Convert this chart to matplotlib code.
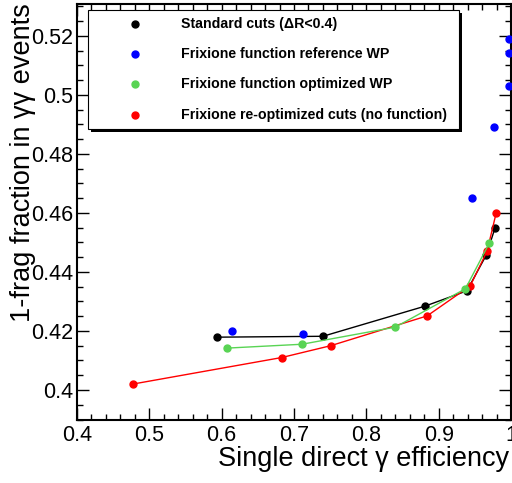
import matplotlib
matplotlib.use("Agg")
import matplotlib.pyplot as plt
from matplotlib.patches import Rectangle
from matplotlib.ticker import MultipleLocator, FixedLocator

# ---- data ----
std_x = [0.594, 0.740, 0.881, 0.939, 0.966, 0.978]
std_y = [0.4179, 0.4182, 0.4284, 0.4336, 0.4458, 0.4550]

ref_x = [0.614, 0.713, 0.9455, 0.976, 0.9975, 0.9975, 0.9975]
ref_y = [0.4200, 0.4191, 0.4652, 0.4892, 0.5030, 0.5141, 0.5191]

opt_x = [0.608, 0.711, 0.840, 0.937, 0.970]
opt_y = [0.4142, 0.4155, 0.4213, 0.4343, 0.4498]

reo_x = [0.477, 0.683, 0.7506, 0.884, 0.9437, 0.967, 0.9796]
reo_y = [0.4020, 0.4110, 0.4150, 0.4251, 0.4353, 0.4471, 0.4601]

legend_labels = [
    "Standard cuts (\u0394R<0.4)",
    "Frixione function reference WP",
    "Frixione function optimized WP",
    "Frixione re-optimized cuts (no function)",
]
xticks = [0.4, 0.5, 0.6, 0.7, 0.8, 0.9, 1.0]
xticklabels = ["0.4", "0.5", "0.6", "0.7", "0.8", "0.9", "1"]
yticks = [0.40, 0.42, 0.44, 0.46, 0.48, 0.50, 0.52]
yticklabels = ["0.4", "0.42", "0.44", "0.46", "0.48", "0.5", "0.52"]

GREEN = "#59d454"
colors = ["black", "blue", GREEN, "red"]

plt.rcParams['font.family'] = ['Liberation Sans', 'DejaVu Sans']

W, H = 512, 483
fig = plt.figure(figsize=(W / 100, H / 100), dpi=100)
ax = fig.add_axes([77 / W, 1 - 419.5 / H, (511 - 77) / W, (419.5 - 4) / H])

ax.plot(std_x, std_y, color="black", lw=1.0, marker="o", ms=5, zorder=3)
ax.plot(ref_x, ref_y, color="blue", lw=0, marker="o", ms=5, zorder=3, clip_on=True)
ax.plot(opt_x, opt_y, color=GREEN, lw=1.0, marker="o", ms=5, zorder=5)
ax.plot(reo_x, reo_y, color="red", lw=1.0, marker="o", ms=5, zorder=4)

ax.set_xlim(0.4, 1.0)
ax.set_ylim(0.39, 0.5308)

ax.xaxis.set_major_locator(FixedLocator(xticks))
ax.set_xticklabels(xticklabels)
ax.xaxis.set_minor_locator(MultipleLocator(0.02))
ax.yaxis.set_major_locator(FixedLocator(yticks))
ax.set_yticklabels(yticklabels)
ax.yaxis.set_minor_locator(MultipleLocator(0.005))

ax.tick_params(which="both", direction="in", top=True, right=True, width=1.0)
ax.tick_params(which="major", length=8.5, labelsize=15.5)
ax.tick_params(which="minor", length=4.3)
ax.tick_params(axis="x", which="major", pad=4)
ax.tick_params(axis="y", which="major", pad=3)
for s in ax.spines.values():
    s.set_linewidth(1.5)

# axis titles (ROOT style, aligned to the ends)
fig.text(509 / W, 1 - 466.5 / H, "Single direct \u03b3 efficiency", ha="right",
         va="baseline", fontsize=19.5)
fig.text(23 / W, 1 - 3 / H, "1-frag fraction in \u03b3\u03b3 events", ha="center",
         va="top", rotation=90, fontsize=19.5)

# legend box with shadow
def px_rect(x0, y0, x1, y1, **kw):
    return Rectangle((x0 / W, 1 - y1 / H), (x1 - x0) / W, (y1 - y0) / H,
                     transform=fig.transFigure, **kw)

fig.patches.append(px_rect(91, 13, 462, 132, facecolor="black", edgecolor="none", zorder=10))
fig.patches.append(px_rect(88, 10, 459, 129, facecolor="white", edgecolor="black",
                           lw=0.8, zorder=11))
rows = [24, 53.5, 84, 115]
for c, lab, ry in zip(colors, legend_labels, rows):
    fig.add_artist(plt.Line2D([135 / W], [1 - ry / H], marker="o", ms=5, color=c,
                              lw=0, transform=fig.transFigure, zorder=12))
    fig.text(181 / W, 1 - ry / H, lab, ha="left", va="center", fontsize=10.2,
             fontweight="bold", zorder=12)

fig.savefig("out.png", dpi=100)
